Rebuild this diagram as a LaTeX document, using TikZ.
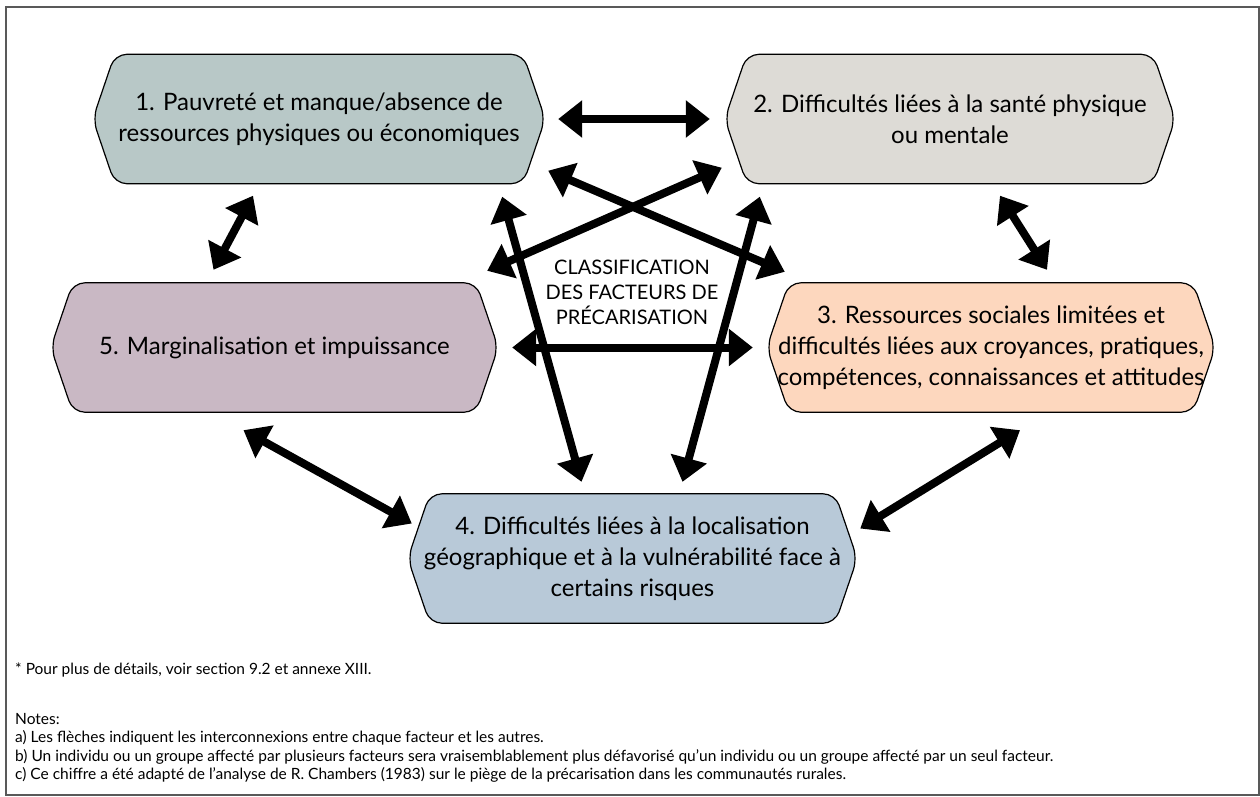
\documentclass[tikz,border=0pt]{standalone}
\usepackage{fontspec}
\setmainfont{Lato}
\usetikzlibrary{calc,arrows.meta,backgrounds}
\tikzset{>={Triangle[length=24pt,width=36pt]}}
\definecolor{poverty}{HTML}{B8C8C7}
\definecolor{health}{HTML}{DDDBD6}
\definecolor{social}{HTML}{FDD7BE}
\definecolor{location}{HTML}{B8C9D8}
\definecolor{margin}{HTML}{C9B8C4}
\tikzset{
  factor/.style={minimum height=129pt, align=center, inner sep=0pt,
    font=\fontsize{24}{31}\selectfont},
  hexline/.style={draw=black, line width=1.2pt, rounded corners=12pt},
  link/.style={<->, line width=8pt},
  note/.style={anchor=west, align=left, inner sep=0pt,
    font=\fontsize{15.5}{18.5}\selectfont}
}

\begin{document}
\begin{tikzpicture}[x=1pt,y=-1pt]
  \useasboundingbox (0,0) rectangle (1260,796);
  \draw[black!65, line width=2pt] (6,7) rectangle (1259,795);
  % factors
  \node[factor, minimum width=452pt] (b1) at (319,119)
    {1. Pauvreté et manque/absence de\\ressources physiques ou économiques};
  \node[factor, minimum width=450pt] (b2) at (950,119)
    {2. Difficultés liées à la santé physique\\ou mentale};
  \node[factor, minimum width=448pt] (b3) at (991,347.5)
    {3. Ressources sociales limitées et\\difficultés liées aux croyances, pratiques,\\compétences, connaissances et attitudes};
  \node[factor, minimum width=449pt] (b4) at (632.5,558.5)
    {4. Difficultés liées à la localisation\\géographique et à la vulnérabilité face à\\certains risques};
  \node[factor, minimum width=447pt] (b5) at (274.5,347.5)
    {5. Marginalisation et impuissance};
  \begin{scope}[on background layer]
    \foreach \n/\c in {b1/poverty, b2/health, b3/social, b4/location, b5/margin}
      \draw[hexline, fill=\c] (\n.north) -- ($(\n.north east)+(-22,0)$) -- (\n.east)
        -- ($(\n.south east)+(-22,0)$) -- ($(\n.south west)+(22,0)$) -- (\n.west)
        -- ($(\n.north west)+(22,0)$) -- cycle;
  \end{scope}
  \node[align=center, font=\fontsize{20}{25}\selectfont] (title) at (632,292)
    {CLASSIFICATION\\DES FACTEURS DE\\PRÉCARISATION};
  % links
  \draw[link] ($(b1.east)+(13,0)$) -- ($(b2.west)+(-15,0)$);
  \draw[link] ($(b1.south)+(-66,12)$) -- ($(b5.north)+(-61,-13)$);
  \draw[link] ($(b2.south)+(50,12)$) -- ($(b3.north)+(56,-13)$);
  \draw[link] ($(b5.east)+(14,0)$) -- ($(b3.west)+(-14,0)$);
  \draw[link] ($(b5.south)+(-31,18)$) -- ($(b4.west)+(4,-35)$);
  \draw[link] ($(b3.south)+(29,18)$) -- ($(b4.east)+(3,-30)$);
  \draw[link] ($(b1.south east)+(3,-13)$) -- ($(b3.north west)+(18,-11)$);
  \draw[link] ($(b2.south west)+(-3,-16)$) -- ($(b5.north east)+(-11,-12)$);
  \draw[link] ($(b1.south east)+(-43,13)$) -- ($(b4.north)+(-51,-12)$);
  \draw[link] ($(b2.south west)+(35,13)$) -- ($(b4.north)+(50,-12)$);
  % notes
  \node[note] (star) at (15,670) {* Pour plus de détails, voir section 9.2 et annexe XIII.};
  \node[note, anchor=north west] (notes) at (15,713)
    {Notes:\\
     a) Les flèches indiquent les interconnexions entre chaque facteur et les autres.\\
     b) Un individu ou un groupe affecté par plusieurs facteurs sera vraisemblablement plus défavorisé qu’un individu ou un groupe affecté par un seul facteur.\\
     c) Ce chiffre a été adapté de l’analyse de R. Chambers (1983) sur le piège de la précarisation dans les communautés rurales.};
\end{tikzpicture}
\end{document}
